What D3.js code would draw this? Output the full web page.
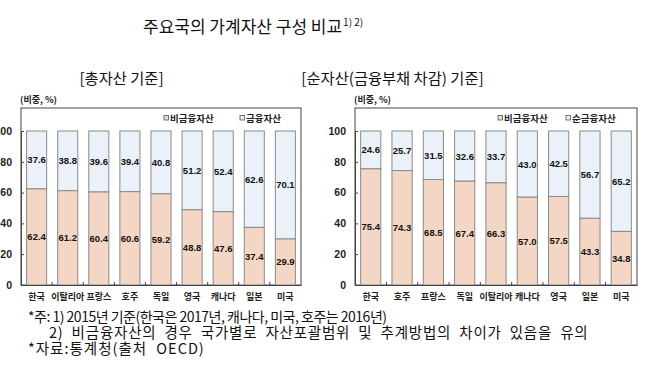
<!DOCTYPE html>
<html><head><meta charset="utf-8">
<script src="https://cdn.jsdelivr.net/npm/d3@7"></script>
<style>
body{margin:0;background:#fff;}
svg{display:block;}
</style></head>
<body><svg id="c" width="648" height="378"></svg>
<script>
const titleText = "주요국의 가계자산 구성 비교";
const titleSup = "1) 2)";
const leftTitle = "[총자산 기준]";
const rightTitle = "[순자산(금융부채 차감) 기준]";
const unitLabel = "(비중, %)";

const leftCategories = ["한국","이탈리아","프랑스","호주","독일","영국","캐나다","일본","미국"];
const leftNonFin = [62.4,61.2,60.4,60.6,59.2,48.8,47.6,37.4,29.9];
const leftFin = [37.6,38.8,39.6,39.4,40.8,51.2,52.4,62.6,70.1];
const leftLegend = ["비금융자산","금융자산"];

const rightCategories = ["한국","호주","프랑스","독일","이탈리아","캐나다","영국","일본","미국"];
const rightNonFin = [75.4,74.3,68.5,67.4,66.3,57.0,57.5,43.3,34.8];
const rightFin = [24.6,25.7,31.5,32.6,33.7,43.0,42.5,56.7,65.2];
const rightLegend = ["비금융자산","순금융자산"];

const yTicks = [0,20,40,60,80,100];
const notes = [
  "*주: 1) 2015년 기준(한국은 2017년, 캐나다, 미국, 호주는 2016년)",
  "2) 비금융자산의 경우 국가별로 자산포괄범위 및 추계방법의 차이가 있음을 유의",
  "*자료:통계청(출처 OECD)"
];

const KR = "'Noto Sans CJK KR', sans-serif";
const NUM = "'Liberation Sans', Arial, sans-serif";
const colNonFin = "#f3d6c4", colFin = "#eaf1f9";

const svg = d3.select("#c");

// Title
const t = svg.append("text").attr("x", 143).attr("y", 33)
  .style("font-family", KR).style("font-size","17px").style("fill","#111");
t.append("tspan").text(titleText);
t.append("tspan").attr("dy",-7).attr("dx",1).style("font-size","10px").text(titleSup);

function drawChart(opts){
  const {x0,x1,cats,nf,fi,legend,title,titleX} = opts;
  const g = svg.append("g");
  const x = d3.scaleBand().domain(cats).range([x0,x1]).paddingInner(0.355).paddingOuter(0.18);
  const y = d3.scaleLinear().domain([0,100]).range([285,131]);

  g.append("text").attr("x",titleX).attr("y",84).attr("text-anchor","middle")
    .style("font-family",KR).style("font-size","15.3px").style("fill","#111").text(title);

  g.append("text").attr("x",x0-1).attr("y",103)
    .style("font-family",KR).style("font-weight","bold").style("font-size","9px").style("fill","#222").text(unitLabel);

  // frame
  g.append("rect").attr("x",x0).attr("y",108).attr("width",x1-x0).attr("height",285-108)
    .attr("fill","none").attr("stroke","#444").attr("stroke-width",1);

  const data = cats.map((c,i)=>({c, nf:nf[i], fi:fi[i]}));
  const bars = g.selectAll("g.bar").data(data).join("g");
  bars.append("rect").attr("x",d=>x(d.c)).attr("width",x.bandwidth())
    .attr("y",d=>y(d.nf+d.fi)).attr("height",d=>y(d.nf)-y(d.nf+d.fi))
    .attr("fill",colFin).attr("stroke","#8a8a8a").attr("stroke-width",1);
  bars.append("rect").attr("x",d=>x(d.c)).attr("width",x.bandwidth())
    .attr("y",d=>y(d.nf)).attr("height",d=>y(0)-y(d.nf))
    .attr("fill",colNonFin).attr("stroke","#8a8a8a").attr("stroke-width",1);
  bars.append("text").attr("x",d=>x(d.c)+x.bandwidth()/2).attr("y",d=>(y(d.nf)+y(0))/2+3.5)
    .attr("text-anchor","middle").style("font-family",NUM).style("font-weight","bold").style("font-size","9.5px")
    .style("fill","#111").text(d=>d3.format(".1f")(d.nf));
  bars.append("text").attr("x",d=>x(d.c)+x.bandwidth()/2).attr("y",d=>(y(d.nf)+y(d.nf+d.fi))/2+3.5)
    .attr("text-anchor","middle").style("font-family",NUM).style("font-weight","bold").style("font-size","9.5px")
    .style("fill","#111").text(d=>d3.format(".1f")(d.fi));

  // y axis
  const ya = g.append("g").attr("transform",`translate(${x0},0)`)
    .call(d3.axisLeft(y).tickValues(yTicks).tickSize(-3).tickPadding(9));
  ya.select(".domain").attr("stroke","#444");
  ya.selectAll(".tick line").attr("stroke","#444");
  ya.selectAll(".tick text").style("font-family",NUM).style("font-weight","bold").style("font-size","10.5px").style("fill","#222");

  // x axis
  const xa = g.append("g").attr("transform","translate(0,285)")
    .call(d3.axisBottom(x).tickSize(0).tickPadding(9));
  xa.select(".domain").attr("stroke","#444");
  xa.selectAll(".tick text").style("font-family",KR).style("font-weight","bold").style("font-size","9px").style("fill","#222");
  // boundary ticks
  const step = x.step();
  g.selectAll("line.bt").data(cats.slice(1)).join("line")
    .attr("x1",d=>x(d)-(step-x.bandwidth())/2).attr("x2",d=>x(d)-(step-x.bandwidth())/2)
    .attr("y1",285).attr("y2",282).attr("stroke","#444");

  // legend
  const lx = [opts.legX1, opts.legX2];
  const lc = [colNonFin, colFin];
  legend.forEach((name,i)=>{
    g.append("rect").attr("x",lx[i]).attr("y",115.5).attr("width",4.5).attr("height",4.5)
      .attr("fill",lc[i]).attr("stroke","#555").attr("stroke-width",0.8);
    g.append("text").attr("x",lx[i]+6).attr("y",121.5)
      .style("font-family",KR).style("font-weight","bold").style("font-size","9.5px").style("fill","#222").text(name);
  });
}

drawChart({x0:21,x1:301,cats:leftCategories,nf:leftNonFin,fi:leftFin,legend:leftLegend,title:leftTitle,titleX:121.5,legX1:164,legX2:240});
drawChart({x0:355,x1:637,cats:rightCategories,nf:rightNonFin,fi:rightFin,legend:rightLegend,title:rightTitle,titleX:392.5,legX1:498,legX2:566});

// notes
const nx = [28,49,28], ny = [322,338,354];
svg.append("text").attr("x",nx[0]).attr("y",ny[0]).attr("textLength",359).attr("lengthAdjust","spacing")
  .style("font-family",KR).style("font-size","14px").style("fill","#111").text(notes[0]);
svg.append("text").attr("x",nx[1]).attr("y",ny[1])
  .style("font-family",KR).style("font-size","14.5px").style("letter-spacing","0.8px").style("word-spacing","4px").style("fill","#111").text(notes[1]);
svg.append("text").attr("x",nx[2]).attr("y",ny[2])
  .style("font-family",KR).style("font-size","14.5px").style("letter-spacing","1px").style("word-spacing","5px").style("fill","#111").text(notes[2]);
</script></body></html>
